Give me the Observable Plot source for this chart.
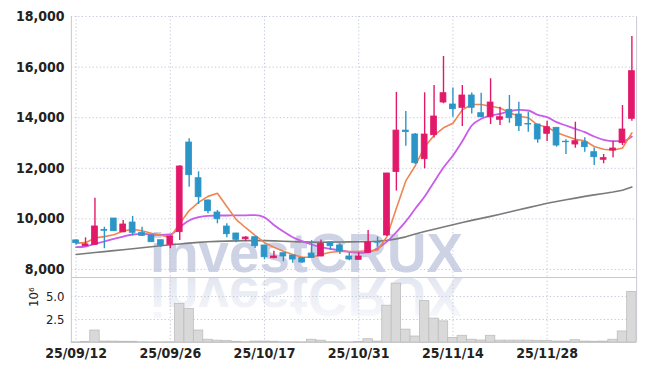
<!DOCTYPE html>
<html><head><meta charset="utf-8">
<script src="https://cdn.jsdelivr.net/npm/d3@7"></script>
<script src="https://cdn.jsdelivr.net/npm/@observablehq/plot@0.6"></script>
<style>
html,body{margin:0;padding:0;background:#fff;}
#wrap{position:relative;width:645px;height:371px;overflow:hidden;background:#fff;}
#wrap svg{position:absolute;left:0;}
</style></head><body><div id="wrap"></div>
<script>
// ---------- data ----------
const dates = ["25/09/12","25/09/15","25/09/16","25/09/17","25/09/18","25/09/19","25/09/22","25/09/23","25/09/24","25/09/25",
"25/09/26","25/09/29","25/09/30","25/10/01","25/10/02","25/10/10","25/10/13","25/10/14","25/10/15","25/10/16",
"25/10/17","25/10/20","25/10/21","25/10/22","25/10/23","25/10/24","25/10/27","25/10/28","25/10/29","25/10/30",
"25/10/31","25/11/03","25/11/04","25/11/05","25/11/06","25/11/07","25/11/10","25/11/11","25/11/12","25/11/13",
"25/11/14","25/11/17","25/11/18","25/11/19","25/11/20","25/11/21","25/11/24","25/11/25","25/11/26","25/11/27",
"25/11/28","25/12/01","25/12/02","25/12/03","25/12/04","25/12/05","25/12/08","25/12/09","25/12/10","25/12/11"];
const open  = [9150,8920,8975,9560,10015,9470,9857,9450,9343,9157, 8975,9474,13019,11608,10727,10252,9698,9422,9197,9276,
8948,8445,8643,8552,8445,8631,8513,9067,8948,8513, 8382,8659,9090,9343,11850,13490,13335,12359,13308,14600,
14521,14391,14877,14178,14019,13917,14312,14126,13750,13730, 13363,13600,13050,12940,13031,12636,12336,12703,12992,13956];
const high  = [9170,9250,10820,9670,10020,9935,10094,9670,9360,9160, 9330,12100,13165,11860,10750,10330,9805,9430,9300,9290,
8960,8724,8650,8560,8450,9140,9170,9080,9020,8658, 8660,9540,9280,11800,15000,14245,13380,14984,15272,16420,
15178,15272,14980,14970,15540,14415,14877,14612,14217,13740, 13861,13610,13126,13822,13205,12800,12545,13070,14480,17210];
const low   = [8960,8910,8950,8820,9500,9450,9330,9300,9070,8880, 8820,9150,11252,10568,10200,9805,9250,9054,9100,8830,
8383,8420,8304,8250,8240,8440,8500,8750,8590,8350, 8370,8640,8880,9300,11100,12870,12150,11980,13200,14550,
14020,13650,14150,14000,13730,13690,13780,13454,13426,12990, 13059,12834,12545,12794,12636,12110,12178,12415,12900,13860];
const close = [9040,8990,9700,9530,9513,9778,9450,9330,9078,8948, 9303,12071,11727,10857,10303,9987,9394,9173,9264,8920,
8485,8513,8513,8394,8276,8461,9015,8920,8710,8394, 8513,9067,9060,11794,13490,13430,12201,13335,14047,14968,
14336,14877,14391,14019,14600,14019,13980,13664,13730,13138, 13624,12900,13030,13071,12834,12438,12400,12782,13533,15838];
const maShort = [9040,9060,9250,9300,9370,9520,9590,9530,9430,9350, 9270,9820,10330,10650,10890,11010,10490,9970,9650,9345,
9060,8880,8722,8592,8485,8485,8592,8683,8710,8710, 8710,8750,8760,9300,10420,11500,12100,12850,13300,13600,
13780,14310,14520,14520,14450,14380,14200,14060,14000,13710, 13630,13410,13280,13150,13090,12860,12750,12710,12800,13400];
const maMid = [8880,8908,9015,9106,9213,9303,9383,9410,9383,9370, 9383,9671,9936,10067,10122,10134,10134,10140,10140,10150,
10060,9760,9500,9276,9118,8987,8880,8817,8750,8700, 8660,8680,8840,9100,9480,9900,10400,10885,11462,12031,
12505,13071,13691,13956,14087,14154,14257,14312,14284,14114, 14019,13822,13691,13561,13427,13256,13126,13071,13071,13256];
const maLong = [8592,8630,8670,8705,8745,8780,8820,8860,8900,8940, 8975,9010,9040,9070,9095,9110,9120,9130,9140,9142,
9140,9130,9115,9100,9090,9082,9078,9080,9085,9090, 9095,9102,9115,9150,9210,9290,9400,9500,9590,9680,
9770,9855,9940,10020,10100,10185,10270,10360,10445,10530, 10615,10690,10755,10820,10890,10950,11005,11060,11130,11260];
const volume = [0.02,0.05,1.3,0.1,0.1,0.08,0.08,0.03,0.02,0.02, 0.03,4.2,3.66,1.3,0.3,0.2,0.15,0.08,0.03,0.1,
0.1,0.08,0.03,0.03,0.02,0.3,0.2,0.03,0.03,0.02, 0.05,0.36,0.1,4.0,6.4,1.4,0.65,4.5,2.6,2.3,
0.5,0.73,0.3,0.22,0.73,0.2,0.2,0.2,0.2,0.18, 0.15,0.1,0.1,0.25,0.1,0.08,0.1,0.3,1.2,5.5]; // millions
const priceTicks = [8000,10000,12000,14000,16000,18000];
const volumeTicks = [2.5,5.0];
const dateTickIdx = [0,10,20,30,40,50];

// ---------- setup ----------
const X_DOMAIN = [-0.5, 59.5];
const X_RANGE = [70.9, 636.1];
const FONT = "'Liberation Sans Narrow','DejaVu Sans Condensed',sans-serif";
const UP = "#e2196a", DOWN = "#2c95c8";
const idx = dates.map((d, i) => i);
const upIdx = idx.filter(i => close[i] >= open[i]);
const downIdx = idx.filter(i => close[i] < open[i]);
const grid = {stroke: "#c2c6da", strokeDasharray: "1.2,2.4", strokeWidth: 1};
const HW = 0.31;

const wrap = document.getElementById("wrap");

// watermark (behind)
const wm = d3.create("svg").attr("width", 645).attr("height", 371).style("top", "0px");
const defs = wm.append("defs");
const g1 = defs.append("linearGradient").attr("id", "fade").attr("x1", 0).attr("y1", 0).attr("x2", 0).attr("y2", 1);
g1.append("stop").attr("offset", "0%").attr("stop-color", "#cfd4e6").attr("stop-opacity", 0.05);
g1.append("stop").attr("offset", "100%").attr("stop-color", "#cfd4e6").attr("stop-opacity", 0.7);
const wmAttrs = t => t.attr("x", 150).attr("y", 272).attr("textLength", 313).attr("lengthAdjust", "spacingAndGlyphs")
  .attr("font-size", 56).attr("font-weight", "bold").attr("font-family", "'Liberation Sans','DejaVu Sans',sans-serif").text("investCRUX");
wmAttrs(wm.append("text")).attr("fill", "#cdd2e5");
wmAttrs(wm.append("text")).attr("fill", "url(#fade)").attr("transform", "translate(0,550) scale(1,-1)");
wrap.appendChild(wm.node());

// price panel
const main = Plot.plot({
  width: 645, height: 277, marginTop: 16, marginBottom: 0, marginLeft: 71, marginRight: 9,
  x: {domain: X_DOMAIN, range: X_RANGE, axis: null},
  y: {domain: [7683, 18000], range: [277, 16], axis: null},
  style: {background: "transparent", fontFamily: FONT, overflow: "visible"},
  marks: [
    Plot.ruleY(priceTicks, {y: d => d, ...grid}),
    Plot.ruleX(dateTickIdx, {x: d => d, ...grid}),
    Plot.ruleX(X_DOMAIN, {x: d => d, stroke: "#c9c9d2"}),
    Plot.ruleY([7683], {y: d => d, stroke: "#c8c8c8"}),
    Plot.text(priceTicks, {y: d => d, frameAnchor: "left", dx: -7, textAnchor: "end",
      text: d => d3.format(",")(d), fontSize: 14, fontWeight: "bold", fill: "#222"}),
    Plot.line(idx, {x: i => i, y: i => maLong[i], stroke: "#7a7a7a", strokeWidth: 1.6}),
    Plot.line(idx, {x: i => i, y: i => maMid[i], stroke: "#c95ce9", strokeWidth: 1.8, curve: "monotone-x"}),
    Plot.line(idx, {x: i => i, y: i => maShort[i], stroke: "#ef8550", strokeWidth: 1.6}),
    Plot.ruleX(upIdx, {x: i => i, y1: i => low[i], y2: i => high[i], stroke: UP, strokeWidth: 1.4}),
    Plot.ruleX(downIdx, {x: i => i, y1: i => low[i], y2: i => high[i], stroke: DOWN, strokeWidth: 1.4}),
    Plot.rect(upIdx, {x1: i => i - HW, x2: i => i + HW, y1: i => open[i], y2: i => close[i], fill: UP, stroke: UP, strokeWidth: 0.8}),
    Plot.rect(downIdx, {x1: i => i - HW, x2: i => i + HW, y1: i => open[i], y2: i => close[i], fill: DOWN, stroke: DOWN, strokeWidth: 0.8})
  ]
});
main.style.top = "0px";
wrap.appendChild(main);

// volume panel
const vol = Plot.plot({
  width: 645, height: 94, marginTop: 0, marginBottom: 29, marginLeft: 71, marginRight: 9,
  x: {domain: X_DOMAIN, range: X_RANGE, axis: null},
  y: {domain: [0, 7.07], range: [65, 0], axis: null},
  style: {background: "transparent", fontFamily: FONT, overflow: "visible"},
  marks: [
    Plot.ruleY(volumeTicks, {y: d => d, ...grid}),
    Plot.ruleX(dateTickIdx, {x: d => d, ...grid}),
    Plot.rect(idx, {x1: i => i - 0.5, x2: i => i + 0.5, y1: i => 0, y2: i => volume[i], fill: "#d9d9d9", stroke: "#bdbdbd", strokeWidth: 0.8}),
    Plot.ruleX(X_DOMAIN, {x: d => d, stroke: "#c9c9d2"}),
    Plot.ruleY([0], {y: d => d, stroke: "#c8c8c8"}),
    Plot.text(volumeTicks, {y: d => d, frameAnchor: "left", dx: -7, textAnchor: "end",
      text: d => d3.format(".1f")(d), fontSize: 13, fill: "#222"}),
    Plot.text(["10⁶"], {frameAnchor: "left", dx: -38, dy: -3, rotate: -90, text: d => d, fontSize: 13, fill: "#222"}),
    Plot.text(dateTickIdx, {x: d => d, frameAnchor: "bottom", dy: 11, lineAnchor: "middle",
      text: i => dates[i], fontSize: 14, fontWeight: "bold", fill: "#222"})
  ]
});
vol.style.top = "277px";
wrap.appendChild(vol);
</script>
</body></html>
